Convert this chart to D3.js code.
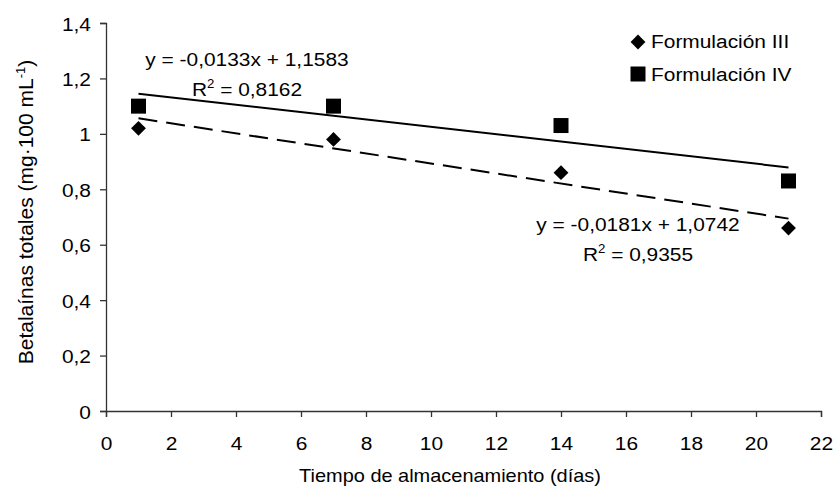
<!DOCTYPE html>
<meta charset="utf-8">
<style>
body { margin: 0; background: #fff; }
text { font-family: "Liberation Sans", Arial, sans-serif; fill: #000; }
</style>
<body>
<script src="https://d3js.org/d3.v7.min.js"></script>
<script>

// data
var dias = [1, 7, 14, 21];
var formIII = [1.02, 0.98, 0.86, 0.66];
var formIV = [1.10, 1.10, 1.03, 0.83];
// linear fits printed on the chart: [slope, intercept]
var coefIII = [-0.0181, 1.0742];
var coefIV = [-0.0133, 1.1583];
var xTicks = [0, 2, 4, 6, 8, 10, 12, 14, 16, 18, 20, 22];
var yTicks = [0, 0.2, 0.4, 0.6, 0.8, 1, 1.2, 1.4];
var series = ["Formulación III", "Formulación IV"];

var width = 834,
    height = 492;

var svg = d3.select("body").append("svg")
    .attr("width", width)
    .attr("height", height);

var x = d3.scaleLinear().domain([0, 22]).range([106, 821]);
var y = d3.scaleLinear().domain([0, 1.4]).range([411, 23]);

var coma = function(d) { return String(Math.round(d * 10) / 10).replace(".", ","); };
var sx = 1.1; // chart text is a bit wider than Arial

// axes
var xAxis = svg.append("g")
    .attr("transform", "translate(0," + y(0) + ")")
    .call(d3.axisBottom(x).tickValues(xTicks).tickFormat(coma).tickSize(6).tickPadding(0));
var yAxis = svg.append("g")
    .attr("transform", "translate(" + x(0) + ",0)")
    .call(d3.axisLeft(y).tickValues(yTicks).tickFormat(coma).tickSize(6).tickPadding(0));

[xAxis, yAxis].forEach(function(a) {
  a.select(".domain").attr("stroke", "#333").attr("stroke-width", 1.3);
  a.selectAll(".tick line").attr("stroke", "#333").attr("stroke-width", 1.3);
  a.selectAll(".tick text").style("font-size", "19px").attr("fill", "#000");
});
xAxis.selectAll(".tick text")
    .attr("y", null).attr("dy", null)
    .attr("transform", "translate(0,39) scale(" + sx + ",1)");
yAxis.selectAll(".tick text")
    .attr("x", null).attr("dy", null)
    .attr("transform", "translate(-15,7) scale(" + sx + ",1)");

// axis titles
svg.append("text")
    .attr("transform", "translate(450,482) scale(1.05,1)")
    .attr("text-anchor", "middle")
    .style("font-size", "19px")
    .text("Tiempo de almacenamiento (días)");

var yl = svg.append("text")
    .attr("transform", "translate(33,212) rotate(-90)")
    .attr("text-anchor", "middle")
    .style("font-size", "21px");
yl.append("tspan").text("Betalaínas totales (mg·100 mL");
yl.append("tspan").attr("dy", -8).style("font-size", "13px").text("-1");
yl.append("tspan").attr("dy", 8).text(")");

// trend lines
function fit(c) {
  return [dias[0], dias[dias.length - 1]].map(function(d) { return [d, c[0] * d + c[1]]; });
}
var line = d3.line().x(function(d) { return x(d[0]); }).y(function(d) { return y(d[1]); });

svg.append("path")
    .attr("d", line(fit(coefIV)))
    .attr("fill", "none")
    .attr("stroke", "#000")
    .attr("stroke-width", 2);

svg.append("path")
    .attr("d", line(fit(coefIII)))
    .attr("fill", "none")
    .attr("stroke", "#000")
    .attr("stroke-width", 2)
    .attr("stroke-dasharray", "19,9");

// markers
var diamond = d3.symbol().type(d3.symbolSquare).size(110);
var square = d3.symbol().type(d3.symbolSquare).size(225);

svg.selectAll(".p3")
    .data(dias)
    .enter().append("path")
    .attr("class", "p3")
    .attr("d", diamond)
    .attr("transform", function(d, i) { return "translate(" + x(d) + "," + y(formIII[i]) + ") rotate(45)"; });

svg.selectAll(".p4")
    .data(dias)
    .enter().append("path")
    .attr("class", "p4")
    .attr("d", square)
    .attr("transform", function(d, i) { return "translate(" + x(d) + "," + y(formIV[i]) + ")"; });

// equations
function eq(c, r2, cx, by) {
  var s = (c[0] < 0 ? "-" : "") + String(Math.abs(c[0])).replace(".", ",");
  svg.append("text")
      .attr("transform", "translate(" + cx + "," + by + ") scale(" + sx + ",1)")
      .attr("text-anchor", "middle")
      .style("font-size", "19px")
      .text("y = " + s + "x + " + String(c[1]).replace(".", ","));
  var t = svg.append("text")
      .attr("transform", "translate(" + cx + "," + (by + 30) + ") scale(" + sx + ",1)")
      .attr("text-anchor", "middle")
      .style("font-size", "19px");
  t.append("tspan").text("R");
  t.append("tspan").attr("dy", -8).style("font-size", "12px").text("2");
  t.append("tspan").attr("dy", 8).text(" = " + r2);
}
eq(coefIV, "0,8162", 247, 66);
eq(coefIII, "0,9355", 638, 231);

// legend
var leg = svg.append("g");
leg.append("path").attr("d", diamond).attr("transform", "translate(638,42) rotate(45)");
leg.append("path").attr("d", square).attr("transform", "translate(638,74)");
leg.selectAll(".lt")
    .data(series)
    .enter().append("text")
    .attr("class", "lt")
    .attr("transform", function(d, i) { return "translate(651," + (48 + i * 33) + ") scale(" + sx + ",1)"; })
    .style("font-size", "19px")
    .text(function(d) { return d; });

</script>
